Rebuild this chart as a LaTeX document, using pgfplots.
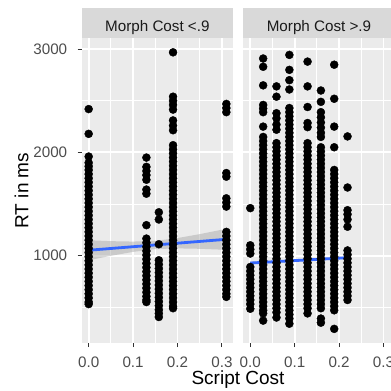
\documentclass[border=0pt]{standalone}
\usepackage{fontspec}
\setmainfont{Liberation Sans}
\usepackage{pgfplots}
\pgfplotsset{compat=1.18}
\definecolor{panelbg}{HTML}{EBEBEB}
\definecolor{stripbg}{HTML}{D9D9D9}
\definecolor{ticklab}{HTML}{4D4D4D}
\definecolor{tickcol}{HTML}{333333}
\definecolor{striptxt}{HTML}{1A1A1A}
\definecolor{fitblue}{HTML}{3366FF}
\definecolor{bandgray}{HTML}{999999}
\pgfplotsset{
  facet/.style={
    scale only axis, width=151.2pt, height=304.2pt, anchor=south west,
    xmin=-0.0155, xmax=0.325, ymin=156, ymax=3104,
    axis background/.style={fill=panelbg},
    axis line style={draw=none},
    xtick={0,0.1,0.2,0.3}, xticklabels={0.0,0.1,0.2,0.3},
    minor xtick={0.05,0.15,0.25},
    ytick={1000,2000,3000}, minor ytick={500,1500,2500},
    grid=both,
    major grid style={white, line width=1.9pt},
    minor grid style={white, line width=0.95pt},
    tick align=outside, xtick pos=bottom, ytick pos=left,
    major tick length=4.3pt, minor tick length=0pt,
    tick style={tickcol, line width=1pt},
    tick label style={font=\fontsize{15.2}{18}\selectfont, text=ticklab, inner sep=0pt},
    xticklabel style={anchor=base, yshift=-20.3pt},
    yticklabel style={anchor=east, xshift=-10.1pt},
    /pgf/number format/assume math mode=true,
    clip=false,
  },
  pts/.style={only marks, mark=*, mark size=4pt, black},
  fit/.style={fitblue, line width=2.8pt},
  band/.style={fill=bandgray, fill opacity=0.4, draw=none},
}
\begin{document}
\begin{tikzpicture}
\useasboundingbox[fill=white] (0,0) rectangle (391pt,391pt);
% ---------------- left panel ----------------
\begin{axis}[facet, name=L, at={(81.8pt,48.3pt)}, yticklabels={1000,2000,3000}]
\addplot[pts] coordinates {
(0,2420)(0,2180)(0,1960)(0,1900)(0,1865)(0,1830)(0,1790)(0,1750)(0,1710)(0,1670)(0,1630)(0,1590)(0,1550)(0,1510)(0,1470)(0,1430)(0,1390)(0,1350)(0,1310)(0,1270)(0,1230)(0,1190)(0,1150)(0,1110)(0,1070)(0,1030)(0,990)(0,950)(0,910)(0,870)(0,830)(0,790)(0,750)(0,710)(0,670)(0,630)(0,590)(0,550)(0,530)
};
\addplot[pts] coordinates {
(0.13,1950)(0.13,1860)(0.13,1820)(0.13,1780)(0.13,1735)(0.13,1640)(0.13,1600)(0.13,1295)(0.13,1165)(0.13,1125)(0.13,1085)(0.13,1045)(0.13,1005)(0.13,965)(0.13,925)(0.13,885)(0.13,845)(0.13,805)(0.13,765)(0.13,725)(0.13,685)(0.13,645)(0.13,605)(0.13,570)(0.13,550)
};
\addplot[pts] coordinates {
(0.158,1420)(0.158,1350)(0.158,1110)(0.158,955)(0.158,915)(0.158,875)(0.158,835)(0.158,795)(0.158,755)(0.158,715)(0.158,675)(0.158,635)(0.158,595)(0.158,555)(0.158,515)(0.158,475)(0.158,440)(0.158,405)
};
\addplot[pts] coordinates {
(0.19,2970)(0.19,2540)(0.19,2500)(0.19,2460)(0.19,2415)(0.19,2310)(0.19,2260)(0.19,2215)(0.19,2070)(0.19,2030)(0.19,1990)(0.19,1950)(0.19,1910)(0.19,1870)(0.19,1830)(0.19,1790)(0.19,1750)(0.19,1710)(0.19,1670)(0.19,1630)(0.19,1590)(0.19,1550)(0.19,1510)(0.19,1470)(0.19,1430)(0.19,1390)(0.19,1350)(0.19,1310)(0.19,1270)(0.19,1230)(0.19,1190)(0.19,1150)(0.19,1110)(0.19,1070)(0.19,1030)(0.19,990)(0.19,950)(0.19,910)(0.19,870)(0.19,830)(0.19,790)(0.19,750)(0.19,710)(0.19,670)(0.19,630)(0.19,590)(0.19,550)(0.19,510)(0.19,490)
};
\addplot[pts] coordinates {
(0.31,2470)(0.31,2430)(0.31,2390)(0.31,1800)(0.31,1765)(0.31,1555)(0.31,1515)(0.31,1475)(0.31,1230)(0.31,1190)(0.31,1150)(0.31,1110)(0.31,1070)(0.31,1030)(0.31,990)(0.31,950)(0.31,910)(0.31,870)(0.31,830)(0.31,790)(0.31,750)(0.31,710)(0.31,670)(0.31,630)(0.31,600)
};
\addplot[band] coordinates {
(0,1149)(0.05,1140)(0.1,1136)(0.15,1143)(0.2,1170)(0.25,1208)(0.31,1260)
(0.31,1056)(0.25,1066)(0.2,1070)(0.15,1063)(0.1,1036)(0.05,998)(0,955)
} -- cycle;
\addplot[fit] coordinates {(0,1052)(0.31,1158)};
\end{axis}
% ---------------- right panel ----------------
\begin{axis}[facet, name=R, at={(243.4pt,48.3pt)}, yticklabels={}, ytick style={draw=none}]
\addplot[pts] coordinates {
(0,1460)(0,1100)(0,1060)(0,1020)(0,890)(0,850)(0,810)(0,770)(0,730)(0,690)(0,650)(0,610)(0,570)(0,530)(0,485)
};
\addplot[pts] coordinates {
(0.029,2910)(0.029,2830)(0.029,2650)(0.029,2460)(0.029,2425)(0.029,2390)(0.029,2250)(0.029,2150)(0.029,2110)(0.029,2070)(0.029,2030)(0.029,1990)(0.029,1950)(0.029,1910)(0.029,1870)(0.029,1830)(0.029,1790)(0.029,1750)(0.029,1710)(0.029,1670)(0.029,1630)(0.029,1590)(0.029,1550)(0.029,1510)(0.029,1470)(0.029,1430)(0.029,1390)(0.029,1350)(0.029,1310)(0.029,1270)(0.029,1230)(0.029,1190)(0.029,1150)(0.029,1110)(0.029,1070)(0.029,1030)(0.029,990)(0.029,950)(0.029,910)(0.029,870)(0.029,830)(0.029,790)(0.029,750)(0.029,710)(0.029,670)(0.029,630)(0.029,590)(0.029,550)(0.029,510)(0.029,470)(0.029,440)(0.029,370)
};
\addplot[pts] coordinates {
(0.059,2640)(0.059,2540)(0.059,2380)(0.059,2330)(0.059,2270)(0.059,2220)(0.059,2090)(0.059,2050)(0.059,2010)(0.059,1970)(0.059,1930)(0.059,1890)(0.059,1850)(0.059,1810)(0.059,1770)(0.059,1730)(0.059,1690)(0.059,1650)(0.059,1610)(0.059,1570)(0.059,1530)(0.059,1490)(0.059,1450)(0.059,1410)(0.059,1370)(0.059,1330)(0.059,1290)(0.059,1250)(0.059,1210)(0.059,1170)(0.059,1130)(0.059,1090)(0.059,1050)(0.059,1010)(0.059,970)(0.059,930)(0.059,890)(0.059,850)(0.059,810)(0.059,770)(0.059,730)(0.059,690)(0.059,650)(0.059,610)(0.059,570)(0.059,530)(0.059,490)(0.059,450)(0.059,400)
};
\addplot[pts] coordinates {
(0.088,2945)(0.088,2800)(0.088,2700)(0.088,2610)(0.088,2430)(0.088,2390)(0.088,2350)(0.088,2310)(0.088,2270)(0.088,2230)(0.088,2190)(0.088,2150)(0.088,2110)(0.088,2070)(0.088,2030)(0.088,1990)(0.088,1950)(0.088,1910)(0.088,1870)(0.088,1830)(0.088,1790)(0.088,1750)(0.088,1710)(0.088,1670)(0.088,1630)(0.088,1590)(0.088,1550)(0.088,1510)(0.088,1470)(0.088,1430)(0.088,1390)(0.088,1350)(0.088,1310)(0.088,1270)(0.088,1230)(0.088,1190)(0.088,1150)(0.088,1110)(0.088,1070)(0.088,1030)(0.088,990)(0.088,950)(0.088,910)(0.088,870)(0.088,830)(0.088,790)(0.088,750)(0.088,710)(0.088,670)(0.088,630)(0.088,590)(0.088,550)(0.088,510)(0.088,470)(0.088,430)(0.088,390)(0.088,340)
};
\addplot[pts] coordinates {
(0.129,2880)(0.129,2640)(0.129,2440)(0.129,2285)(0.129,2245)(0.129,2090)(0.129,2050)(0.129,2010)(0.129,1970)(0.129,1930)(0.129,1890)(0.129,1850)(0.129,1810)(0.129,1770)(0.129,1730)(0.129,1690)(0.129,1650)(0.129,1610)(0.129,1570)(0.129,1530)(0.129,1490)(0.129,1450)(0.129,1410)(0.129,1370)(0.129,1330)(0.129,1290)(0.129,1250)(0.129,1210)(0.129,1170)(0.129,1130)(0.129,1090)(0.129,1050)(0.129,1010)(0.129,970)(0.129,930)(0.129,890)(0.129,850)(0.129,810)(0.129,770)(0.129,730)(0.129,690)(0.129,650)(0.129,610)(0.129,570)(0.129,530)(0.129,490)(0.129,440)
};
\addplot[pts] coordinates {
(0.159,2600)(0.159,2490)(0.159,2390)(0.159,2340)(0.159,2290)(0.159,2240)(0.159,2190)(0.159,2150)(0.159,2050)(0.159,2010)(0.159,1970)(0.159,1930)(0.159,1890)(0.159,1850)(0.159,1810)(0.159,1770)(0.159,1730)(0.159,1690)(0.159,1650)(0.159,1610)(0.159,1570)(0.159,1530)(0.159,1490)(0.159,1450)(0.159,1410)(0.159,1370)(0.159,1330)(0.159,1290)(0.159,1250)(0.159,1210)(0.159,1170)(0.159,1130)(0.159,1090)(0.159,1050)(0.159,1010)(0.159,970)(0.159,930)(0.159,890)(0.159,850)(0.159,810)(0.159,770)(0.159,730)(0.159,690)(0.159,650)(0.159,610)(0.159,570)(0.159,530)(0.159,490)(0.159,390)(0.159,350)
};
\addplot[pts] coordinates {
(0.189,2850)(0.189,2520)(0.189,2250)(0.189,2050)(0.189,1830)(0.189,1790)(0.189,1750)(0.189,1710)(0.189,1670)(0.189,1630)(0.189,1590)(0.189,1550)(0.189,1510)(0.189,1470)(0.189,1430)(0.189,1390)(0.189,1350)(0.189,1310)(0.189,1270)(0.189,1230)(0.189,1190)(0.189,1150)(0.189,1110)(0.189,1070)(0.189,1030)(0.189,990)(0.189,950)(0.189,910)(0.189,870)(0.189,830)(0.189,790)(0.189,750)(0.189,710)(0.189,670)(0.189,630)(0.189,590)(0.189,550)(0.189,510)(0.189,470)(0.189,290)
};
\addplot[pts] coordinates {
(0.219,2155)(0.219,1660)(0.219,1440)(0.219,1400)(0.219,1350)(0.219,1280)(0.219,1050)(0.219,1010)(0.219,970)(0.219,930)(0.219,890)(0.219,850)(0.219,810)(0.219,770)(0.219,730)(0.219,690)(0.219,650)(0.219,610)(0.219,570)
};
\addplot[band] coordinates {
(0,941)(0.05,950)(0.1,960)(0.15,972)(0.219,993)
(0.219,967)(0.15,952)(0.1,940)(0.05,930)(0,915)
} -- cycle;
\addplot[fit] coordinates {(0,928)(0.219,980)};
\end{axis}
% strips
\fill[stripbg] (L.north west) rectangle ([yshift=30.2pt]L.north east);
\fill[stripbg] (R.north west) rectangle ([yshift=30.2pt]R.north east);
\node[anchor=base, text=striptxt, font=\fontsize{15.2}{18}\selectfont, inner sep=0pt] at ([yshift=6.8pt]L.north) {Morph Cost <.9};
\node[anchor=base, text=striptxt, font=\fontsize{15.2}{18}\selectfont, inner sep=0pt] at ([yshift=6.8pt]R.north) {Morph Cost >.9};
% axis titles
\node[anchor=base, font=\fontsize{19}{22}\selectfont, inner sep=0pt] at (238pt,6pt) {Script Cost};
\node[anchor=base, rotate=90, font=\fontsize{19}{22}\selectfont, inner sep=0pt] at (28.3pt,200.4pt) {RT in ms};
\end{tikzpicture}
\end{document}
